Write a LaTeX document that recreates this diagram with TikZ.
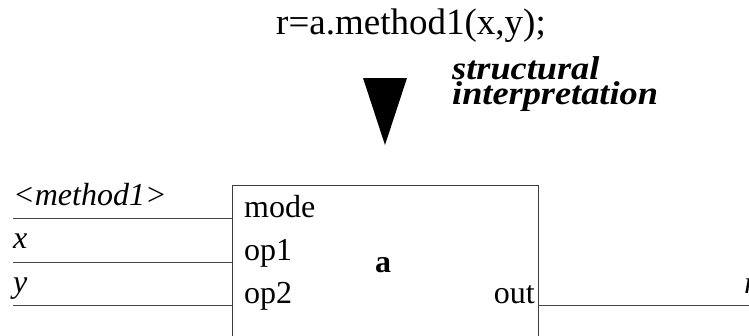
\documentclass[tikz,border=0pt]{standalone}
\usepackage{fontspec}
\setmainfont{Liberation Serif}
\newfontfamily\widefont[FakeStretch=1.1]{Liberation Serif}
\usepackage{tikz}
\usetikzlibrary{calc,positioning}
\definecolor{sigline}{RGB}{70,70,70}
\definecolor{boxline}{RGB}{60,60,60}

\begin{document}
\begin{tikzpicture}[x=1pt,y=-1pt,
    lbl/.style={inner sep=0pt, anchor=base west, font=\fontsize{32}{32}\selectfont},
    sig/.style={sigline, line width=1pt}]
    \useasboundingbox (0,0) rectangle (749,335);
    \clip (0,0) rectangle (749,335);

    % statement
    \node[inner sep=0pt, anchor=base, font=\fontsize{37}{37}\selectfont] (stmt) at (411,34) {r=a.method1(x,y);};

    % interpretation arrow
    \fill[black] (363,78) -- (407,78) -- (385,145) -- cycle;
    \node[inner sep=0pt, anchor=base west, align=left,
        font=\fontsize{33}{21}\selectfont\widefont\bfseries\itshape] (interp) at (452,104)
        {structural\\interpretation};

    % component box
    \draw[boxline, line width=1pt] (232,400) -- (232,185) -- (538,185) -- (538,400);
    \coordinate (boxnw) at (232,185);
    \coordinate (boxne) at (538,185);
    \node[inner sep=0pt, anchor=base, font=\fontsize{32}{32}\selectfont\bfseries] (name) at (383,272) {a};

    % ports
    \node[lbl] (mode) at (244,217) {mode};
    \node[lbl] (op1) at (244,260) {op1};
    \node[lbl] (op2) at (244,303) {op2};
    \node[lbl, anchor=base east] (out) at (535,303) {out};

    % signals
    \node[lbl] (m1) at (13,205) {\itshape <method1>};
    \node[lbl] (xin) at (13,248) {\itshape x};
    \node[lbl] (yin) at (13,292) {\itshape y};
    \node[lbl] (rout) at (744,293) {\itshape r};
    \coordinate (m1s) at (13,218);
    \coordinate (xs) at (13,262);
    \coordinate (ys) at (13,305);
    \coordinate (re) at (749,305);
    \draw[sig] (m1s) -- (m1s -| boxnw);
    \draw[sig] (xs) -- (xs -| boxnw);
    \draw[sig] (ys) -- (ys -| boxnw);
    \draw[sig] (re -| boxne) -- (re);
\end{tikzpicture}
\end{document}
